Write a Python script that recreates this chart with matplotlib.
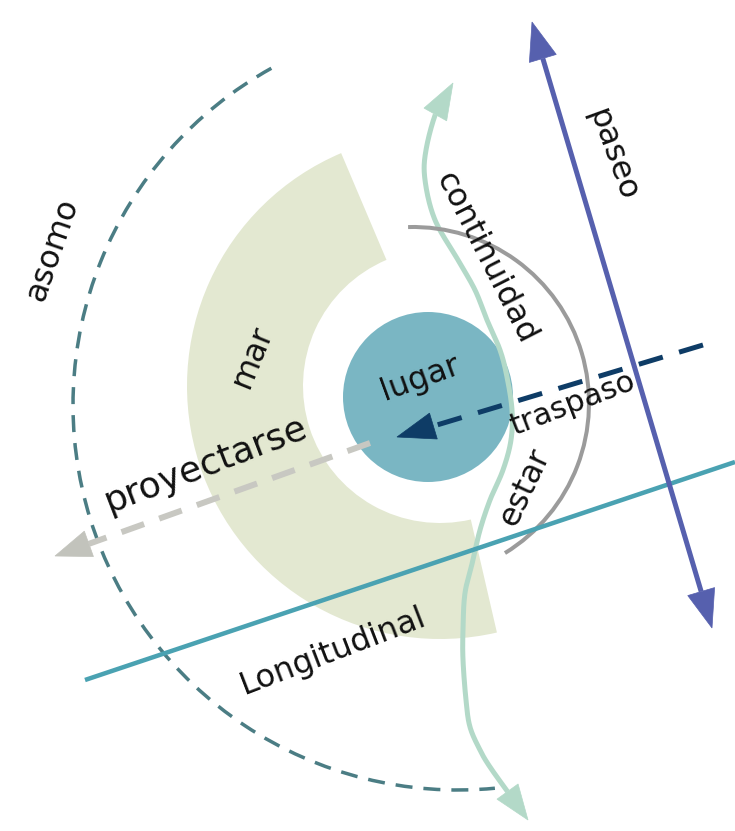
import numpy as np
import matplotlib
matplotlib.use("Agg")
import matplotlib.pyplot as plt
from matplotlib.patches import Wedge, Circle, Polygon, Arc

W, H = 735, 831
plt.rcParams['lines.scale_dashes'] = False
plt.rcParams['font.family'] = ['DejaVu Sans']

# ---- content -------------------------------------------------------------
labels = ["asomo", "mar", "lugar", "continuidad", "paseo", "traspaso",
          "estar", "proyectarse", "Longitudinal"]
label_x = [52, 252, 420, 486, 612, 572, 525, 206, 333]
label_y = [250, 357, 378, 258, 155, 404, 487, 465, 651]
label_rot = [71, 68, 20, -63, -70, 21, 65, 21, 21]
label_size = [23, 23, 23, 23, 23, 22, 23, 26, 23]

# wavy "continuidad" path (pixel coords, y down)
cont_x = [453, 437, 426, 425, 435, 458, 475, 487, 500, 507, 512, 511, 503,
          490, 480, 473, 465, 463, 463, 466, 470, 480, 490, 510, 528]
cont_y = [83, 110, 150, 180, 220, 260, 290, 320, 350, 377, 410, 440, 470,
          500, 530, 560, 593, 630, 660, 700, 727, 750, 767, 795, 820]

px = 0.72  # points per pixel at dpi 100


def P(x, y):
    return np.array([x, H - y], float)


def catmull(pts, n=24):
    pts = np.asarray(pts, float)
    Q = np.vstack([pts[0], pts, pts[-1]])
    out = []
    t = np.linspace(0, 1, n, endpoint=False)[:, None]
    for i in range(1, len(Q) - 2):
        p0, p1, p2, p3 = Q[i - 1], Q[i], Q[i + 1], Q[i + 2]
        out.append(0.5 * ((2 * p1) + (-p0 + p2) * t
                          + (2 * p0 - 5 * p1 + 4 * p2 - p3) * t ** 2
                          + (-p0 + 3 * p1 - 3 * p2 + p3) * t ** 3))
    out.append(Q[-2][None])
    return np.vstack(out)


def head(ax, tip, base, width, color, z):
    tip = np.asarray(tip, float)
    base = np.asarray(base, float)
    u = tip - base
    u /= np.linalg.norm(u)
    n = np.array([-u[1], u[0]])
    poly = Polygon([tip, base + n * width / 2, base - n * width / 2],
                   closed=True, facecolor=color, edgecolor=color, lw=0.5,
                   zorder=z)
    ax.add_patch(poly)


def along(a, b, d):
    a = np.asarray(a, float); b = np.asarray(b, float)
    u = (b - a) / np.linalg.norm(b - a)
    return a + u * d


fig = plt.figure(figsize=(W / 100, H / 100), dpi=100)
ax = fig.add_axes([0, 0, 1, 1])
ax.set_xlim(0, W)
ax.set_ylim(0, H)
ax.set_aspect('equal')
ax.axis('off')

# mar wedge
ax.add_patch(Wedge(P(440, 386), 253, 113, 283, width=116,
                   facecolor='#E3E8D1', edgecolor='none', zorder=1))

# asomo dashed arc
ax.add_patch(Arc(P(458, 405), 2 * 385, 2 * 385, theta1=119, theta2=275.5,
                 color='#4B7D84', lw=3.5 * px, linestyle=(0, (17 * px, 11 * px)),
                 zorder=2))

# lugar circle
ax.add_patch(Circle(P(428, 397), 85, facecolor='#7AB6C3', edgecolor='none',
                    zorder=3))

# continuidad wavy double arrow
pts = np.array([P(x, y) for x, y in zip(cont_x, cont_y)])
curve = catmull(pts)
seg = np.r_[0, np.cumsum(np.linalg.norm(np.diff(curve, axis=0), axis=1))]
hl = 36
i0 = np.searchsorted(seg, hl)
i1 = np.searchsorted(seg, seg[-1] - hl)
ax.plot(curve[i0:i1 + 1, 0], curve[i0:i1 + 1, 1], color='#B3D9C8',
        lw=5 * px, solid_capstyle='butt', zorder=4)
head(ax, curve[0], curve[i0], 26, '#B3D9C8', 4)
head(ax, curve[-1], curve[i1], 26, '#B3D9C8', 4)

# grey arc
ax.add_patch(Arc(P(413, 403), 2 * 176, 2 * 176, theta1=-58.5, theta2=91.6,
                 color='#9B9B9B', lw=4 * px, zorder=5))

# Longitudinal line
a, b = P(85, 680), P(735, 462)
ax.plot([a[0], b[0]], [a[1], b[1]], color='#4AA2B2', lw=4.5 * px,
        solid_capstyle='butt', zorder=6)

# paseo double arrow
t1, t2 = P(532, 22), P(712, 628)
b1, b2 = along(t1, t2, 38), along(t2, t1, 38)
ax.plot([b1[0], b2[0]], [b1[1], b2[1]], color='#5660AE', lw=5 * px,
        solid_capstyle='butt', zorder=6)
head(ax, t1, b1, 28, '#5660AE', 6)
head(ax, t2, b2, 28, '#5660AE', 6)

# proyectarse dashed grey arrow
s, tp = P(370, 443), P(55, 556)
bb = along(tp, s, 36)
ax.plot([s[0], bb[0]], [s[1], bb[1]], color='#C8C8C2', lw=6 * px,
        linestyle=(0, (24 * px, 16 * px)), zorder=7)
head(ax, tp, bb, 27, '#C2C3BC', 7)

# traspaso dashed navy arrow
s, tp = P(703, 345), P(397, 437)
bb = along(tp, s, 38)
ax.plot([s[0], bb[0]], [s[1], bb[1]], color='#0E3C66', lw=5 * px,
        linestyle=(0, (25 * px, 17 * px)), zorder=7)
head(ax, tp, bb, 27, '#0E3C66', 7)

for lab, x, y, r, fs in zip(labels, label_x, label_y, label_rot, label_size):
    q = P(x, y)
    ax.text(q[0], q[1], lab, rotation=r, rotation_mode='anchor',
            ha='center', va='center', fontsize=fs, color='#111111', zorder=10)

fig.savefig('out.png', dpi=100)
